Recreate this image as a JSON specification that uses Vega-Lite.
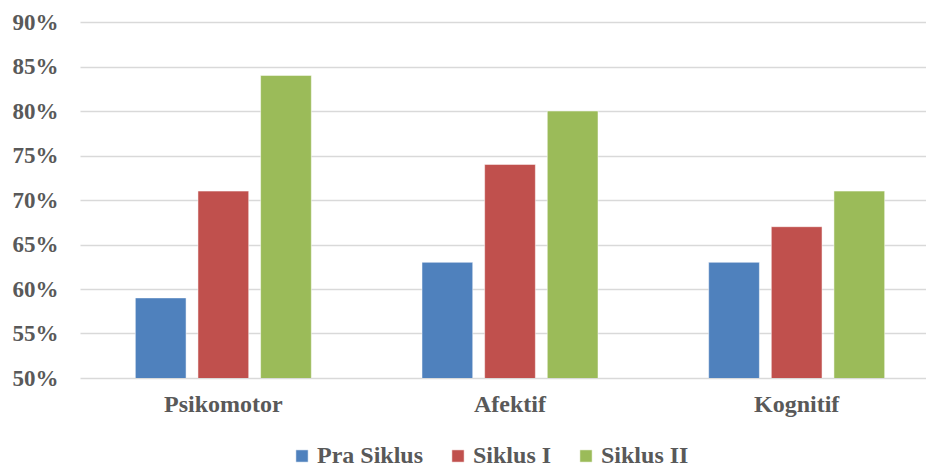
{
  "$schema": "https://vega.github.io/schema/vega-lite/v6.json",
  "width": 860,
  "height": 356,
  "autosize": "none",
  "padding": {"left": 80, "top": 22, "right": 0, "bottom": 90},
  "background": "white",
  "data": {
    "values": [
      {"kategori": "Psikomotor", "siklus": "Pra Siklus", "nilai": 0.59},
      {"kategori": "Psikomotor", "siklus": "Siklus I", "nilai": 0.71},
      {"kategori": "Psikomotor", "siklus": "Siklus II", "nilai": 0.84},
      {"kategori": "Afektif", "siklus": "Pra Siklus", "nilai": 0.63},
      {"kategori": "Afektif", "siklus": "Siklus I", "nilai": 0.74},
      {"kategori": "Afektif", "siklus": "Siklus II", "nilai": 0.80},
      {"kategori": "Kognitif", "siklus": "Pra Siklus", "nilai": 0.63},
      {"kategori": "Kognitif", "siklus": "Siklus I", "nilai": 0.67},
      {"kategori": "Kognitif", "siklus": "Siklus II", "nilai": 0.71}
    ]
  },
  "mark": {"type": "bar", "clip": true},
  "encoding": {
    "x": {
      "field": "kategori",
      "type": "nominal",
      "sort": ["Psikomotor", "Afektif", "Kognitif"],
      "scale": {"paddingInner": 0.386, "paddingOuter": 0.193},
      "axis": {
        "title": null,
        "labelAngle": 0,
        "labelFont": "Liberation Serif",
        "labelFontWeight": "bold",
        "labelFontSize": 24,
        "labelColor": "#595959",
        "labelPadding": 14,
        "ticks": false,
        "domain": false
      }
    },
    "xOffset": {
      "field": "siklus",
      "type": "nominal",
      "sort": ["Pra Siklus", "Siklus I", "Siklus II"],
      "scale": {"paddingInner": 0.19, "paddingOuter": 0}
    },
    "y": {
      "field": "nilai",
      "type": "quantitative",
      "scale": {"domain": [0.5, 0.9], "nice": false, "zero": false},
      "axis": {
        "title": null,
        "format": ".0%",
        "values": [0.5, 0.55, 0.6, 0.65, 0.7, 0.75, 0.8, 0.85, 0.9],
        "labelFont": "Liberation Serif",
        "labelFontWeight": "bold",
        "labelFontSize": 23,
        "labelColor": "#595959",
        "labelPadding": 22,
        "ticks": false,
        "domain": false,
        "gridColor": "#d9d9d9",
        "gridWidth": 1.5
      }
    },
    "color": {
      "field": "siklus",
      "type": "nominal",
      "sort": ["Pra Siklus", "Siklus I", "Siklus II"],
      "scale": {
        "domain": ["Pra Siklus", "Siklus I", "Siklus II"],
        "range": ["#4F81BD", "#C0504D", "#9BBB59"]
      },
      "legend": {
        "title": null,
        "orient": "none",
        "direction": "horizontal",
        "legendX": 210,
        "legendY": 422,
        "symbolType": "square",
        "symbolSize": 150,
        "symbolStrokeWidth": 0,
        "labelFont": "Liberation Serif",
        "labelFontWeight": "bold",
        "labelFontSize": 24,
        "labelColor": "#595959",
        "labelOffset": 3,
        "columnPadding": 22
      }
    }
  },
  "config": {
    "view": {"stroke": null},
    "bar": {"stroke": "white", "strokeWidth": 0.5}
  }
}
